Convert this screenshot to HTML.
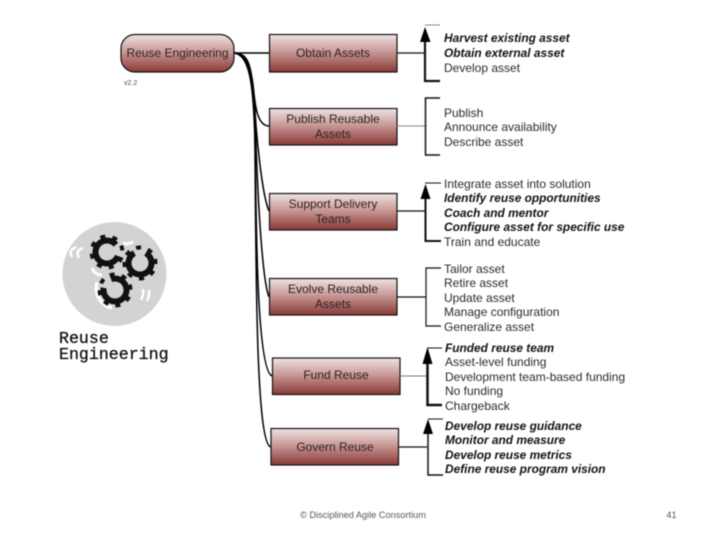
<!DOCTYPE html>
<html><head><meta charset="utf-8"><style>
html,body{margin:0;padding:0;background:#fff;width:720px;height:540px;overflow:hidden}
svg{display:block;filter:blur(.45px)}
text{font-family:"Liberation Sans",sans-serif;fill:#222}
.b{font-size:12px;fill:#2c2222;text-anchor:middle}
.t{font-size:12px;fill:#2a2a2a}
.i{font-size:11.9px;font-weight:bold;font-style:italic;fill:#111}
.m{font-family:"Liberation Mono",monospace;font-size:16.6px;fill:#111;stroke:#111;stroke-width:.3px}
</style></head><body>
<svg width="720" height="540" viewBox="0 0 720 540" xmlns="http://www.w3.org/2000/svg">
<defs>
<linearGradient id="g" x1="0" y1="0" x2="0" y2="1"><stop offset="0" stop-color="#efe3e3"/><stop offset=".45" stop-color="#c99a98"/><stop offset="1" stop-color="#8a3a37"/></linearGradient>
<g id="gear"><circle r="11.500" fill="none" stroke="#111" stroke-width="6" stroke-dasharray="60 12.250"/><circle r="15.500" fill="none" stroke="#111" stroke-width="4" stroke-dasharray="5 7.170"/></g>
</defs>
<g fill="none" stroke="#000">
<path d="M234 53H269" stroke-width="1.5"/>
<path d="M234 53C247 53 250 62 253 85C255 105 257 126 269 126" stroke-width="1.5"/>
<path d="M234 53C247 53 251 65 254 95C256 135 262 195 269 211" stroke-width="1.5"/>
<path d="M234 53C248 54 252 70 255 110C257 190 262 280 269 297" stroke-width="1.5"/>
<path d="M234 53C248 54 253 75 255 130C256 230 257 370 272 376" stroke-width="1.5"/>
<path d="M234 53C249 55 254 80 255 150C256 300 257 445 271 447" stroke-width="1.5"/>
</g>
<g stroke="#111" stroke-width="1.2" fill="url(#g)">
<rect x="121" y="34.500" width="113" height="37.500" rx="14"/>
<rect x="269.500" y="34.500" width="127.500" height="37.500"/>
<rect x="269.500" y="108.500" width="127.500" height="36.500"/>
<rect x="269.500" y="193.500" width="127.500" height="36.500"/>
<rect x="269.500" y="278.500" width="127.500" height="36.500"/>
<rect x="272.500" y="358" width="127.500" height="36.500"/>
<rect x="271" y="428.500" width="127.500" height="36.500"/>
</g>
<g fill="none" stroke="#111">
<path d="M397 53H425" stroke-width="1.2"/>
<path d="M397 126H425" stroke="#888" stroke-width="1"/>
<path d="M397 211H425" stroke-width="1.2"/>
<path d="M397 297H426" stroke-width="1.2"/>
<path d="M400 376H427" stroke="#777" stroke-width="1"/>
<path d="M399 447H427" stroke-width="1.2"/>
<path d="M425 25H440" stroke="#888" stroke-width="1"/>
<path d="M425 35V81H440" stroke-width="2.200"/>
<path d="M440 98H425.500V155H440" stroke-width="1.500"/>
<path d="M425 183H441" stroke-width="1"/>
<path d="M425.500 190V241H441" stroke-width="2"/>
<path d="M441 268H426V326H441" stroke-width="1.200"/>
<path d="M427.500 348H442" stroke-width="1"/>
<path d="M427.500 355V405H442" stroke-width="2.500"/>
<path d="M443 419H428" stroke-width="1"/>
<path d="M428 430V475H443" stroke-width="1.500"/>
</g>
<g fill="#000">
<path d="M425 27L430.500 42H420Z"/>
<path d="M425.500 184L430.500 199H420.500Z"/>
<path d="M427.500 347L432.500 364H422.500Z"/>
<path d="M428 419L433 434H423Z"/>
</g>
<text class="b" x="177.500" y="57">Reuse Engineering</text>
<text class="b" x="333" y="57">Obtain Assets</text>
<text class="b" x="333" y="123">Publish Reusable</text><text class="b" x="333" y="138">Assets</text>
<text class="b" x="333" y="208">Support Delivery</text><text class="b" x="333" y="223">Teams</text>
<text class="b" x="333" y="293">Evolve Reusable</text><text class="b" x="333" y="308">Assets</text>
<text class="b" x="336" y="379">Fund Reuse</text>
<text class="b" x="335" y="451">Govern Reuse</text>
<text x="124" y="85" style="font-size:7px;fill:#444">v2.2</text>
<text class="i" x="444" y="42">Harvest existing asset</text>
<text class="i" x="444" y="57">Obtain external asset</text>
<text class="t" x="444" y="72">Develop asset</text>
<text class="t" x="444" y="117">Publish</text>
<text class="t" x="444" y="131">Announce availability</text>
<text class="t" x="444" y="146">Describe asset</text>
<text class="t" x="444" y="188">Integrate asset into solution</text>
<text class="i" x="444" y="202">Identify reuse opportunities</text>
<text class="i" x="444" y="217">Coach and mentor</text>
<text class="i" x="444" y="231">Configure asset for specific use</text>
<text class="t" x="444" y="246">Train and educate</text>
<text class="t" x="444" y="273">Tailor asset</text>
<text class="t" x="444" y="287">Retire asset</text>
<text class="t" x="444" y="302">Update asset</text>
<text class="t" x="444" y="316">Manage configuration</text>
<text class="t" x="444" y="331">Generalize asset</text>
<text class="i" x="445" y="352">Funded reuse team</text>
<text class="t" x="445" y="366">Asset-level funding</text>
<text class="t" x="445" y="381">Development team-based funding</text>
<text class="t" x="445" y="395">No funding</text>
<text class="t" x="445" y="410">Chargeback</text>
<text class="i" x="445" y="430">Develop reuse guidance</text>
<text class="i" x="445" y="444">Monitor and measure</text>
<text class="i" x="445" y="459">Develop reuse metrics</text>
<text class="i" x="445" y="473">Define reuse program vision</text>
<circle cx="114.500" cy="274" r="52" fill="#d3d3d3"/>
<g fill="none" stroke="#fff" stroke-width="2.500">
<path d="M72 257C69 251 71 250 76 247"/><path d="M79 258C76 252 78 250 83 248"/>
<path d="M141 300C144 294 143 292 143 289"/><path d="M147 301C150 295 149 293 149 290"/>
<path d="M92 268C94 273 97 275 102 275" stroke-width="3"/><path d="M97 282C94 296 102 306 112 308" stroke-width="3.500"/>
<path d="M123 243C128 245 130 243 133 242" stroke-width="3"/>
</g>
<use href="#gear" x="107" y="252" transform="rotate(20 107 252)"/>
<use href="#gear" x="140" y="263" transform="rotate(-60 140 263)"/>
<use href="#gear" x="115" y="290" transform="rotate(-110 115 290)"/>
<text class="m" x="59" y="343">Reuse</text>
<text class="m" x="59" y="359">Engineering</text>
<text x="363" y="518" text-anchor="middle" style="font-size:9.200px;fill:#555">© Disciplined Agile Consortium</text>
<text x="671.500" y="518" text-anchor="middle" style="font-size:9.200px;fill:#555">41</text>
</svg>
</body></html>
